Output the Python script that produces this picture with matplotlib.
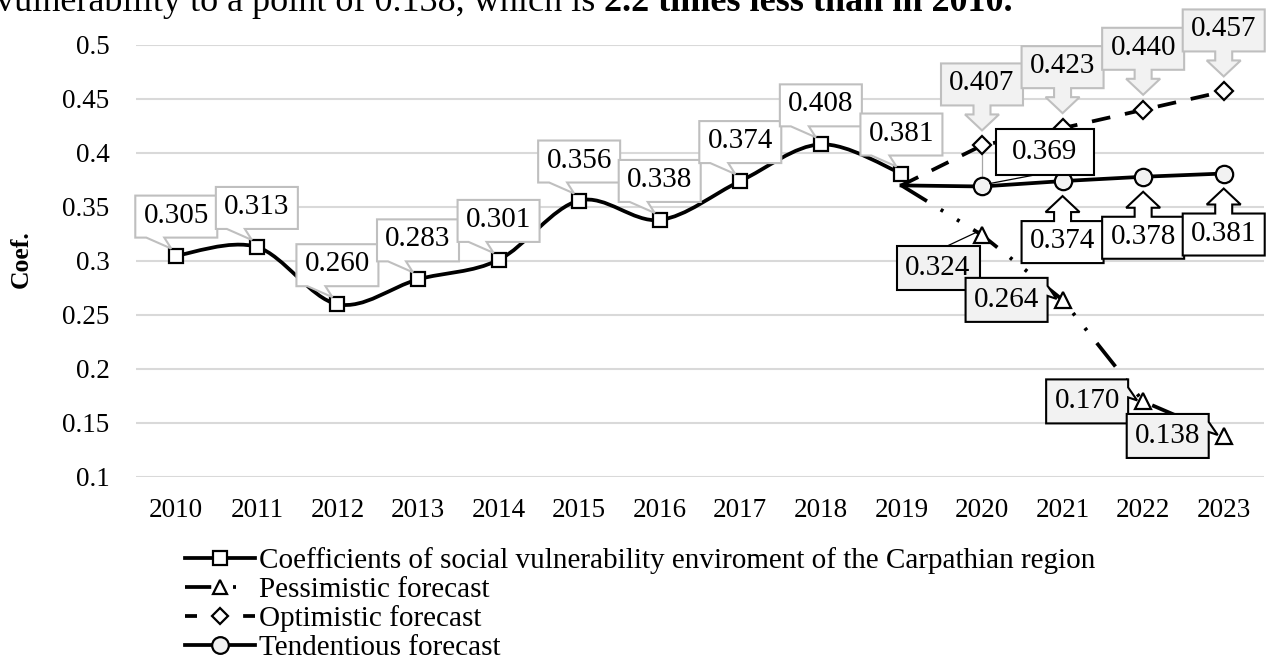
import numpy as np
import matplotlib
matplotlib.use("Agg")
import matplotlib.pyplot as plt
import matplotlib.patches as mpatches
import matplotlib.transforms as mtransforms
from matplotlib.path import Path
from matplotlib.lines import Line2D

plt.rcParams["font.family"] = ["Liberation Serif", "DejaVu Serif"]

# ── data ────────────────────────────────────────────────────────────────
years      = [str(y) for y in range(2010, 2024)]
base_years = years[:10]
base_vals  = [0.305, 0.313, 0.260, 0.283, 0.301, 0.356, 0.338, 0.374, 0.408, 0.381]
fc_years   = years[9:]
pess_vals  = [0.370, 0.324, 0.264, 0.170, 0.138]
opt_vals   = [0.370, 0.407, 0.423, 0.440, 0.457]
tend_vals  = [0.370, 0.369, 0.374, 0.378, 0.381]
y_ticks    = [0.1, 0.15, 0.2, 0.25, 0.3, 0.35, 0.4, 0.45, 0.5]
y_labels   = ["0.1", "0.15", "0.2", "0.25", "0.3", "0.35", "0.4", "0.45", "0.5"]

legend_labels = [
    "Coefficients of social vulnerability enviroment of the Carpathian region",
    "Pessimistic forecast",
    "Optimistic forecast",
    "Tendentious forecast",
]

LBL_FS  = 21
TICK_FS = 19.5
LEG_FS  = 21
LW      = 2.7
GRAY_EDGE = "#bfbfbf"
GRAY_FILL = "#f2f2f2"

W, H = 1266, 669
fig = plt.figure(figsize=(W / 100, H / 100), dpi=100)
ax = fig.add_axes([136 / W, 1 - 477 / H, 1128 / W, 432 / H])

bx = [years.index(y) for y in base_years]
fx = [years.index(y) for y in fc_years]

ax.set_xlim(-0.5, len(years) - 0.5)
ax.set_ylim(0.1, 0.5)
ax.set_xticks(range(len(years)))
ax.set_xticklabels(years, fontsize=TICK_FS)
ax.set_yticks(y_ticks)
ax.set_yticklabels(y_labels, fontsize=TICK_FS)
ax.tick_params(axis="both", length=0)
ax.tick_params(axis="x", pad=15)
ax.tick_params(axis="y", pad=19)
for s in ax.spines.values():
    s.set_visible(False)
ax.grid(axis="y", color="#d9d9d9", lw=1.5)
ax.set_axisbelow(True)

fig.text(21 / W, 1 - 259 / H, "Coef.", rotation=90, ha="center", va="center",
         fontsize=18.5, fontweight="bold")

# ── smoothed base line (Catmull-Rom -> bezier) ──────────────────────────
def smooth_path(xs, ys):
    pts = np.column_stack([xs, ys]).astype(float)
    p = np.vstack([pts[0], pts, pts[-1]])
    verts, codes = [pts[0]], [Path.MOVETO]
    for i in range(1, len(p) - 2):
        p0, p1, p2, p3 = p[i - 1], p[i], p[i + 1], p[i + 2]
        verts += [p1 + (p2 - p0) / 6, p2 - (p3 - p1) / 6, p2]
        codes += [Path.CURVE4] * 3
    return Path(verts, codes)

ax.add_patch(mpatches.PathPatch(smooth_path(bx, base_vals), fill=False, ec="black",
                                lw=LW, capstyle="round", joinstyle="round", zorder=2))
ax.plot(bx, base_vals, ls="none", marker="s", ms=10.5, mfc="white", mec="black",
        mew=1.6, zorder=3)

# ── forecasts ───────────────────────────────────────────────────────────
pess_ls = (0, (8, 4.3, 0.8, 4.3, 0.8, 4.3))
opt_ls  = (0, (5, 4))
ax.plot(fx, pess_vals, color="black", lw=LW, ls=pess_ls, zorder=2)
ax.plot(fx[1:], pess_vals[1:], ls="none", marker="^", ms=11, mfc="white",
        mec="black", mew=1.6, zorder=3)
ax.plot(fx, opt_vals, color="black", lw=LW, ls=opt_ls, zorder=2)
ax.plot(fx[1:], opt_vals[1:], ls="none", marker="D", ms=9, mfc="white",
        mec="black", mew=1.6, zorder=3)
ax.plot(fx, tend_vals, color="black", lw=LW, zorder=2)
ax.plot(fx[1:], tend_vals[1:], ls="none", marker="o", ms=12.5, mfc=GRAY_FILL,
        mec="black", mew=1.6, zorder=3)
# thin grey leader between 2020 markers
ax.plot([fx[1], fx[1]], [opt_vals[1], tend_vals[1]], color="#a6a6a6", lw=0.9, zorder=2.5)

# ── callout helpers (pixel offsets from data point) ─────────────────────
def at(x, y):
    return mtransforms.Affine2D() + mtransforms.ScaledTranslation(x, y, ax.transData)

def shape(x, y, verts, fc, ec):
    ax.add_patch(mpatches.Polygon(verts, closed=True, fc=fc, ec=ec, lw=1.5,
                                  transform=at(x, y), zorder=4, clip_on=False))

def label(x, y, txt, dx, dy):
    ax.annotate(txt, xy=(x, y), xytext=(dx, dy), textcoords="offset pixels",
                ha="center", va="center", fontsize=LBL_FS, zorder=5,
                annotation_clip=False)

# base series: wedge callouts above
for x, v in zip(bx, base_vals):
    cy, hw, hh = 39, 41, 21
    verts = [(-hw, cy + hh), (hw, cy + hh), (hw, cy - hh), (-12, cy - hh),
             (-5, 7), (-30, cy - hh), (-hw, cy - hh)]
    shape(x, v, verts, "white", GRAY_EDGE)
    label(x, v, f"{v:.3f}", 0, cy + 1)

# optimistic: down-arrow callouts
down = [(-41, 82), (41, 82), (41, 40), (8.5, 40), (8.5, 31), (17, 31), (0, 15),
        (-17, 31), (-8.5, 31), (-8.5, 40), (-41, 40)]
for x, v in zip(fx[1:], opt_vals[1:]):
    shape(x, v, down, GRAY_FILL, GRAY_EDGE)
    label(x, v, f"{v:.3f}", 0, 62)

# tendentious: first one boxed with leader, rest up-arrow callouts
x0, v0 = fx[1], tend_vals[1]
ax.add_line(Line2D([50, 8], [11, 3], color="black", lw=0.9, transform=at(x0, v0), zorder=4))
shape(x0, v0, [(14, 57), (112, 57), (112, 11), (14, 11)], "white", "black")
label(x0, v0, f"{v0:.3f}", 63, 34)
up = [(a, -b) for a, b in down]
for x, v in zip(fx[2:], tend_vals[2:]):
    shape(x, v, up, "white", "black")
    label(x, v, f"{v:.3f}", 0, -60)

# pessimistic: first one boxed with leader, rest wedge callouts to the left
x0, v0 = fx[1], pess_vals[1]
ax.add_line(Line2D([-35, -3], [-11, 4], color="black", lw=0.9, transform=at(x0, v0), zorder=4))
shape(x0, v0, [(-85, -11), (-2, -11), (-2, -55), (-85, -55)], GRAY_FILL, "black")
label(x0, v0, f"{v0:.3f}", -44, -33)
for x, v in zip(fx[2:], pess_vals[2:]):
    verts = [(-97, 22), (-15, 22), (-15, 14), (-6, 1), (-15, 4), (-15, -22), (-97, -22)]
    shape(x, v, verts, GRAY_FILL, "black")
    label(x, v, f"{v:.3f}", -56, 0)

# ── legend ──────────────────────────────────────────────────────────────
handles = [
    Line2D([], [], color="black", lw=LW, marker="s", ms=10.5, mfc="white", mec="black", mew=1.6),
    Line2D([], [], color="black", lw=LW, ls=(0, (7, 5.8, 0.8, 10)), marker="^", ms=10,
           mfc="white", mec="black", mew=1.6),
    Line2D([], [], color="black", lw=LW, ls=(0, (3.2, 12.3)), marker="D", ms=8,
           mfc="white", mec="black", mew=1.6),
    Line2D([], [], color="black", lw=LW, marker="o", ms=12, mfc=GRAY_FILL, mec="black", mew=1.6),
]
fig.legend(handles, legend_labels, loc="upper left", bbox_to_anchor=(185 / W, 1 - 547 / H),
           frameon=False, fontsize=LEG_FS, handlelength=2.4, handletextpad=0.14,
           labelspacing=0.08, borderpad=0, borderaxespad=0)

# ── cut-off sentence above the chart ────────────────────────────────────
t1 = fig.text(-4 / W, 1 - 11 / H, "vulnerability to a point of 0.138, which is",
              fontsize=26, ha="left", va="baseline")
ax.annotate(" 2.2 times less than in 2010.", xy=(1, 0), xycoords=t1, ha="left",
            va="bottom", fontsize=26, fontweight="bold", annotation_clip=False)

fig.savefig("out.png", dpi=100)
